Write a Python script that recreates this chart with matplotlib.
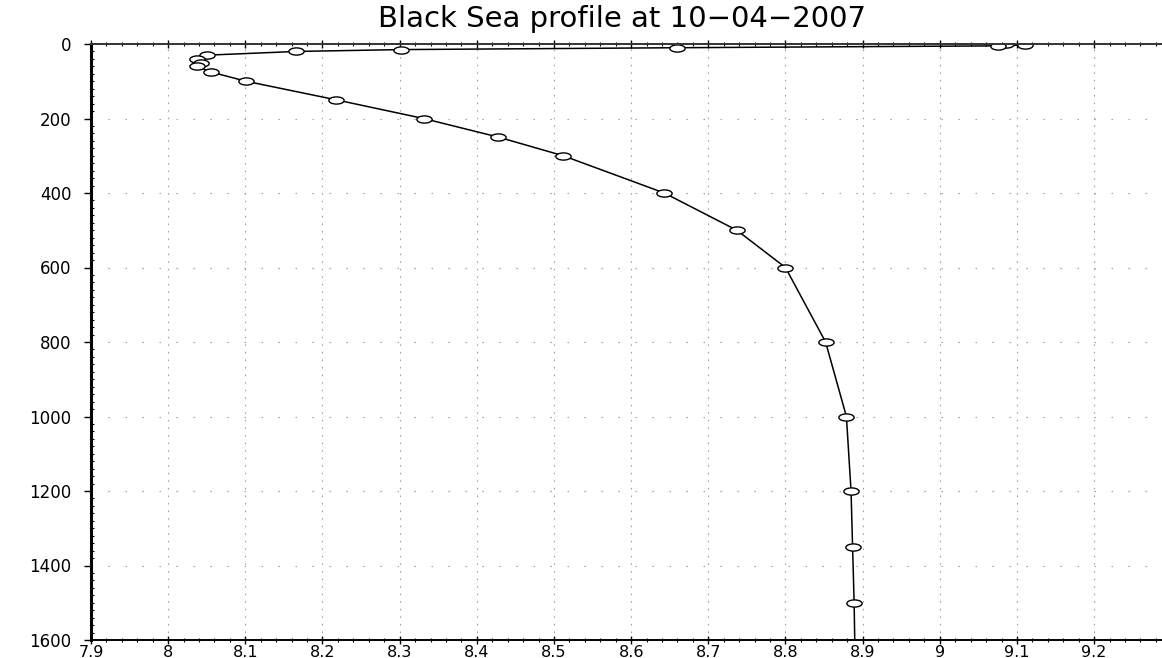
import numpy as np
import matplotlib
matplotlib.use('Agg')
import matplotlib.pyplot as plt
from matplotlib.path import Path
from matplotlib.transforms import Affine2D
from matplotlib.ticker import MultipleLocator, FixedLocator

# Профиль: значение и глубина (м)
depth = [1, 2.5, 5, 10, 15, 20, 30, 40, 50, 60, 75, 100, 150, 200, 250, 300,
         400, 500, 600, 800, 1000, 1200, 1350, 1500, 2000]
value = [9.086, 9.111, 9.075, 8.659, 8.302, 8.166, 8.050, 8.037, 8.042, 8.037,
         8.055, 8.101, 8.218, 8.331, 8.428, 8.512, 8.643, 8.737, 8.800, 8.852,
         8.879, 8.885, 8.887, 8.889, 8.893]

x_ticks = [7.9, 8.0, 8.1, 8.2, 8.3, 8.4, 8.5, 8.6, 8.7, 8.8, 8.9, 9.0, 9.1, 9.2]
x_labels = ['7.9', '8', '8.1', '8.2', '8.3', '8.4', '8.5', '8.6', '8.7', '8.8',
            '8.9', '9', '9.1', '9.2']
y_ticks = [0, 200, 400, 600, 800, 1000, 1200, 1400, 1600]
title = 'Black Sea profile at 10\u221204\u22122007'

W, H = 1162, 658
fig = plt.figure(figsize=(W / 100, H / 100), dpi=100)
ax = fig.add_axes([91 / W, (H - 640) / H, (W - 91) / W, 596 / H])

# эллиптический маркер как в GrADS
ell = Path.unit_circle().transformed(Affine2D().scale(1.0, 0.47))

ax.plot(value, depth, color='black', linewidth=1.1, marker=ell, markersize=11,
        markerfacecolor='white', markeredgecolor='black', markeredgewidth=1.0)

ax.set_xlim(7.9, 9.288)
ax.set_ylim(1600, 0)

ax.xaxis.set_major_locator(FixedLocator(x_ticks))
ax.set_xticklabels(x_labels)
ax.xaxis.set_minor_locator(MultipleLocator(0.02))
ax.yaxis.set_major_locator(FixedLocator(y_ticks))
ax.yaxis.set_minor_locator(MultipleLocator(20))

# сетка: вертикальные и горизонтальные точки с разным шагом
ax.xaxis.grid(True, which='major', color='#9a9a9a', linewidth=0.8, linestyle=(0, (1.3, 5.5)))
ax.yaxis.grid(True, which='major', color='#9a9a9a', linewidth=0.8, linestyle=(0, (1.3, 14)))

ax.spines['right'].set_visible(False)
ax.spines['left'].set_linewidth(2.2)
ax.spines['bottom'].set_linewidth(1.4)
ax.spines['top'].set_linewidth(1.4)
ax.spines['top'].set_color('#333333')

ax.tick_params(axis='x', which='major', direction='inout', length=6, width=1.0,
               labelsize=11.5, pad=0.5, top=True)
ax.tick_params(axis='x', which='minor', direction='inout', length=3, width=0.8, top=True)
ax.tick_params(axis='y', which='major', direction='out', length=5, width=1.0,
               labelsize=12, pad=9)
ax.tick_params(axis='y', which='minor', direction='in', length=2, width=0.8)

fig.text(622 / W, 1 - 19 / H, title, ha='center', va='center', fontsize=21)

fig.savefig('out.png', dpi=100)
